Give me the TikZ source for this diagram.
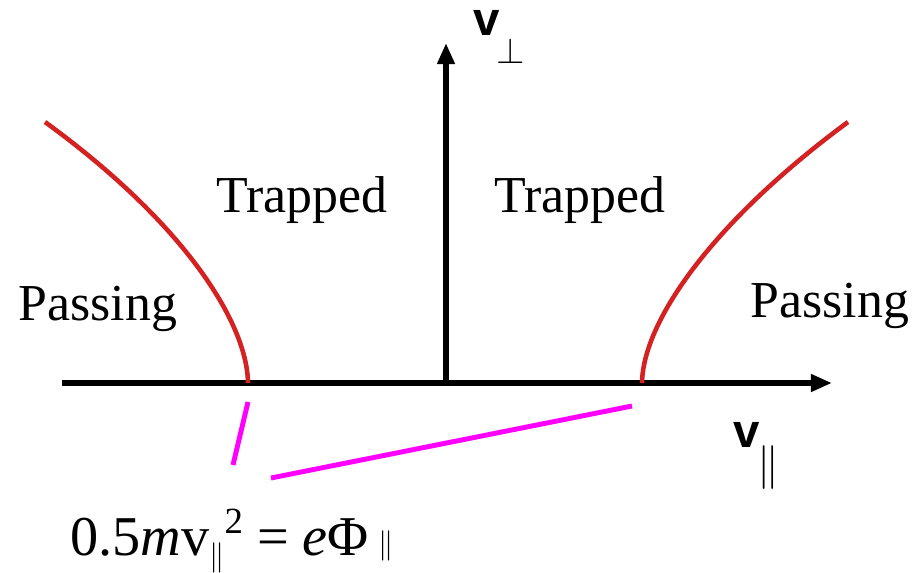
\documentclass[tikz,border=0pt]{standalone}
\usepackage{fontspec}
\setmainfont{Liberation Serif}
\newfontfamily\labelfont{Liberation Sans}
\usetikzlibrary{arrows.meta,positioning}
\definecolor{Ink}{HTML}{000000}
\definecolor{Boundary}{HTML}{D42222}
\definecolor{Pointer}{HTML}{FF00FF}
\tikzset{
  axis/.style={-{Triangle[length=12pt,width=9.5pt]}, line width=3pt, draw=Ink},
  boundary/.style={line width=2.6pt, draw=Boundary},
  pointer/.style={line width=2.8pt, draw=Pointer},
  region/.style={anchor=base, inner sep=0pt, font=\fontsize{29.5}{34}\selectfont},
  axislabel/.style={anchor=base west, inner sep=0pt, font=\labelfont\bfseries\fontsize{27}{30}\selectfont},
  sublabel/.style={inner sep=0pt}
}

\begin{document}
\begin{tikzpicture}[x=0.02cm,y=-0.02cm]
    \useasboundingbox (0,0) rectangle (924,572);
    % axes
    \coordinate (origin) at (446,383);
    \coordinate (xstart) at (62,383);
    \coordinate (xend) at (832,383);
    \coordinate (yend) at (446,43);
    \draw[axis] (xstart)--(xend);
    \draw[axis] (origin)--(yend);
    \node[axislabel] (vperp) at (473,35) {v};
    \node[sublabel,font=\fontsize{22}{24}\selectfont] (perp) at (511,51) {$\perp$};
    \node[axislabel] (vpar) at (733,447) {v};
    \node[sublabel,font=\fontsize{32}{34}\selectfont] (par) at (768,468) {$\|$};
    % trapped/passing boundary
    \coordinate (lfoot) at (248,383);
    \coordinate (ltop) at (45,122);
    \coordinate (rfoot) at (642,383);
    \coordinate (rtop) at (848,122);
    \draw[boundary] (lfoot) .. controls (247,320) and (180,220) .. (ltop);
    \draw[boundary] (rfoot) .. controls (643,320) and (715,220) .. (rtop);
    % regions
    \node[region] (trapl) at (302,212) {Trapped};
    \node[region] (trapr) at (580,212) {Trapped};
    \node[region] (passl) at (98,320) {Passing};
    \node[region] (passr) at (830,317) {Passing};
    % condition
    \node[anchor=base west, inner sep=0pt, font=\fontsize{32}{36}\selectfont] (cond) at (70,555)
      {0.5\textit{m}v\raisebox{-0.4ex}{\fontsize{16}{16}\selectfont$\|$}\raisebox{0.85ex}{\fontsize{21}{21}\selectfont 2} = \textit{e}Φ\,\raisebox{0.05ex}{\fontsize{16}{16}\selectfont$\|$}};
    \coordinate (lp1) at (248,402);
    \coordinate (lp2) at (233,465);
    \coordinate (rp1) at (632,406);
    \coordinate (rp2) at (271,478);
    \draw[pointer] (lp1)--(lp2);
    \draw[pointer] (rp1)--(rp2);
\end{tikzpicture}
\end{document}
